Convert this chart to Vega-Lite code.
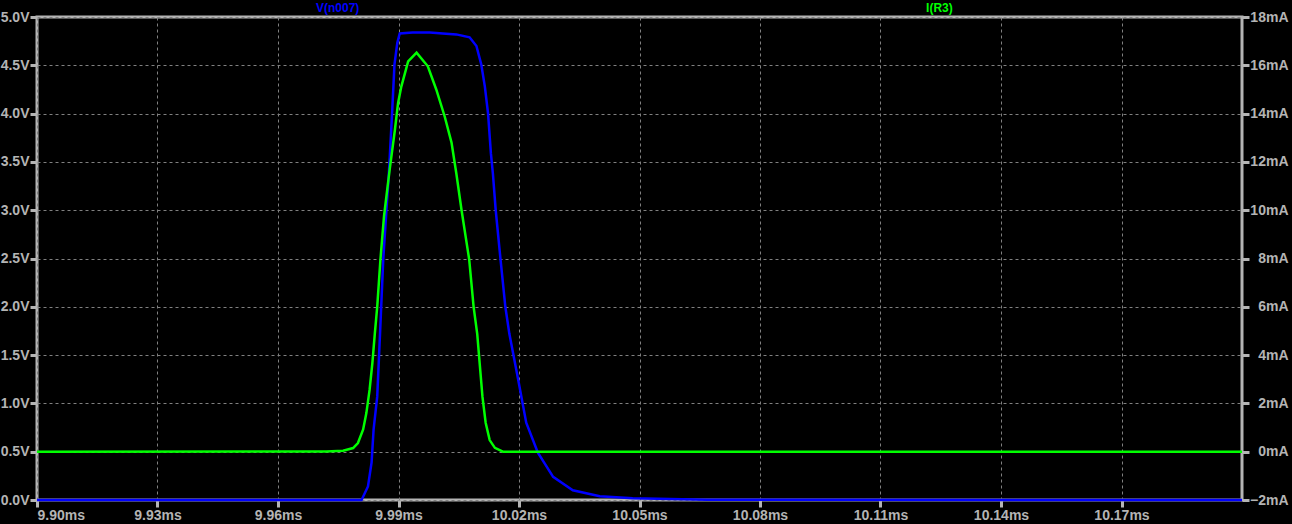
{
  "$schema": "https://vega.github.io/schema/vega-lite/v6.json",
  "width": 1205,
  "height": 483,
  "autosize": {"type": "none"},
  "padding": {"left": 37, "top": 17, "right": 50, "bottom": 24},
  "background": "#000000",
  "config": {
    "view": {"stroke": "#b4b4b4", "strokeWidth": 3, "fill": "#000000"},
    "axis": {
      "labelFont": "Liberation Sans",
      "labelFontSize": 14,
      "labelFontWeight": "bold",
      "labelColor": "#b4b4b4",
      "tickColor": "#b4b4b4",
      "tickWidth": 3,
      "tickSize": 7,
      "domain": false,
      "gridColor": "#808080",
      "gridDash": [3, 3],
      "gridWidth": 1,
      "title": null
    }
  },
  "datasets": {
    "vn007": [
      {"t": 9.90, "v": 0},
      {"t": 9.9808, "v": 0},
      {"t": 9.9824, "v": 0.14},
      {"t": 9.9833, "v": 0.39},
      {"t": 9.9838, "v": 0.73},
      {"t": 9.9847, "v": 1.07},
      {"t": 9.9854, "v": 1.72},
      {"t": 9.9862, "v": 2.49},
      {"t": 9.9870, "v": 3.0},
      {"t": 9.9876, "v": 3.38},
      {"t": 9.9884, "v": 4.0},
      {"t": 9.9890, "v": 4.51},
      {"t": 9.9897, "v": 4.73},
      {"t": 9.9903, "v": 4.83},
      {"t": 9.9935, "v": 4.84},
      {"t": 9.9978, "v": 4.84},
      {"t": 10.0010, "v": 4.83},
      {"t": 10.0044, "v": 4.82},
      {"t": 10.0077, "v": 4.79},
      {"t": 10.0094, "v": 4.70},
      {"t": 10.0106, "v": 4.51},
      {"t": 10.0115, "v": 4.28},
      {"t": 10.0123, "v": 4.0},
      {"t": 10.0130, "v": 3.59},
      {"t": 10.0135, "v": 3.38},
      {"t": 10.0142, "v": 3.0},
      {"t": 10.0154, "v": 2.49},
      {"t": 10.0166, "v": 2.0},
      {"t": 10.0176, "v": 1.72},
      {"t": 10.0198, "v": 1.245},
      {"t": 10.0218, "v": 0.80},
      {"t": 10.0247, "v": 0.49},
      {"t": 10.0285, "v": 0.24},
      {"t": 10.0334, "v": 0.10},
      {"t": 10.0401, "v": 0.04},
      {"t": 10.0483, "v": 0.017},
      {"t": 10.0667, "v": 0.003},
      {"t": 10.20, "v": 0}
    ],
    "ir3": [
      {"t": 9.90, "i": 0},
      {"t": 9.9720, "i": 0.01},
      {"t": 9.9762, "i": 0.04},
      {"t": 9.9787, "i": 0.15},
      {"t": 9.9799, "i": 0.36},
      {"t": 9.9812, "i": 0.92},
      {"t": 9.9820, "i": 1.6},
      {"t": 9.9828, "i": 2.56},
      {"t": 9.9835, "i": 3.68},
      {"t": 9.9841, "i": 4.88},
      {"t": 9.9847, "i": 6.0},
      {"t": 9.9855, "i": 7.96},
      {"t": 9.9864, "i": 9.76},
      {"t": 9.9873, "i": 11.0},
      {"t": 9.9878, "i": 11.68},
      {"t": 9.9891, "i": 13.32},
      {"t": 9.9899, "i": 14.44},
      {"t": 9.9907, "i": 15.12},
      {"t": 9.9924, "i": 16.16},
      {"t": 9.9945, "i": 16.52},
      {"t": 9.9973, "i": 15.96},
      {"t": 9.9994, "i": 15.0},
      {"t": 10.0015, "i": 13.88},
      {"t": 10.0032, "i": 12.8},
      {"t": 10.0044, "i": 11.52},
      {"t": 10.0057, "i": 10.0},
      {"t": 10.0076, "i": 7.96},
      {"t": 10.0087, "i": 6.0},
      {"t": 10.0096, "i": 4.88},
      {"t": 10.0102, "i": 3.68},
      {"t": 10.0109, "i": 2.28},
      {"t": 10.0117, "i": 1.2},
      {"t": 10.0127, "i": 0.48},
      {"t": 10.0140, "i": 0.16},
      {"t": 10.0160, "i": 0},
      {"t": 10.20, "i": 0}
    ],
    "labels": [
      {"series": "V(n007)", "t": 9.97486},
      {"series": "I(R3)", "t": 10.12466}
    ]
  },
  "encoding": {
    "x": {
      "field": "t",
      "type": "quantitative",
      "scale": {"domain": [9.90, 10.20], "nice": false, "zero": false},
      "axis": {
        "values": [9.90, 9.93, 9.96, 9.99, 10.02, 10.05, 10.08, 10.11, 10.14, 10.17],
        "labelExpr": "format(datum.value, '.2f') + 'ms'",
        "labelPadding": 1,
        "grid": true
      }
    }
  },
  "layer": [
    {
      "layer": [
        {
          "data": {"name": "vn007"},
          "mark": {"type": "line", "strokeWidth": 2.5, "interpolate": "linear"},
          "encoding": {
            "y": {
              "field": "v",
              "type": "quantitative",
              "scale": {"domain": [0, 5], "nice": false, "zero": false},
              "axis": {
                "orient": "left",
                "values": [0, 0.5, 1, 1.5, 2, 2.5, 3, 3.5, 4, 4.5, 5],
                "labelExpr": "format(datum.value, '.1f') + 'V'",
                "labelPadding": 1,
                "grid": true
              }
            },
            "color": {
              "datum": "V(n007)",
              "scale": {"domain": ["V(n007)", "I(R3)"], "range": ["#0000ff", "#00ff00"]},
              "legend": null
            }
          }
        },
        {
          "data": {"name": "labels"},
          "mark": {"type": "text", "font": "Liberation Sans", "fontSize": 12, "fontWeight": "bold", "baseline": "alphabetic", "dy": -5, "align": "center"},
          "encoding": {
            "y": {"datum": 5, "type": "quantitative"},
            "text": {"field": "series"},
            "color": {"field": "series", "type": "nominal", "legend": null}
          }
        }
      ]
    },
    {
      "data": {"name": "ir3"},
      "mark": {"type": "line", "strokeWidth": 2.5, "interpolate": "linear"},
      "encoding": {
        "y": {
          "field": "i",
          "type": "quantitative",
          "scale": {"domain": [-2, 18], "nice": false, "zero": false},
          "axis": {
            "orient": "right",
            "values": [-2, 0, 2, 4, 6, 8, 10, 12, 14, 16, 18],
            "labelExpr": "format(datum.value, 'd') + 'mA'",
            "labelAlign": "right",
            "labelPadding": 39,
            "grid": false
          }
        },
        "color": {"datum": "I(R3)", "legend": null}
      }
    }
  ],
  "resolve": {"scale": {"y": "independent"}}
}
